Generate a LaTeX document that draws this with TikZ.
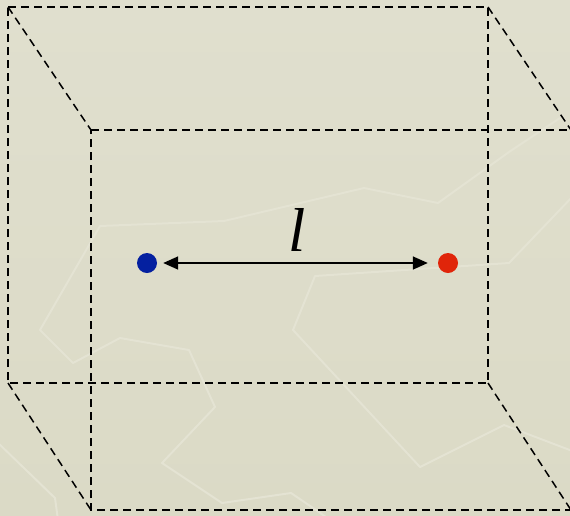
\documentclass[tikz,border=0pt]{standalone}
\usepackage{fontspec}
\setmainfont{Liberation Serif}
\usetikzlibrary{arrows.meta, positioning}

\definecolor{bgtop}{RGB}{224,223,206}
\definecolor{bgbot}{RGB}{219,218,198}
\definecolor{bgline}{RGB}{228,227,211}
\definecolor{blueq}{RGB}{4,32,160}
\definecolor{redq}{RGB}{224,37,10}

\begin{document}
\begin{tikzpicture}[
    x=1pt, y=-1pt,
    edge/.style={black, line width=1.5pt, dash pattern=on 8pt off 5pt},
    trace/.style={bgline, line width=2pt, line join=round},
    dot/.style={circle, inner sep=0pt, minimum size=20pt},
    arrow/.style={{Triangle[length=15pt, width=13pt]}-{Triangle[length=15pt, width=13pt]}, line width=1.6pt},
    label/.style={font=\fontsize{62}{62}\selectfont\itshape, inner sep=0pt},
]

\clip (0,0) rectangle (570,515);
\shade[top color=bgtop, bottom color=bgbot] (0,0) rectangle (570,515);

% faint background traces
\draw[trace] (560,118) -- (509,152) -- (438,203) -- (364,188) -- (224,221) -- (100,226) -- (40,330) -- (73,363) -- (120,338) -- (189,350) -- (215,407) -- (162,463) -- (222,503) -- (291,493) -- (316,510) -- (330,520);
\draw[trace] (575,194) -- (509,263) -- (315,276) -- (293,330) -- (420,467) -- (504,425) -- (575,452);
\draw[trace] (-5,440) -- (55,498) -- (58,520);

% box corners
\coordinate (b1) at (8,7);
\coordinate (b2) at (488,7);
\coordinate (b3) at (488,383);
\coordinate (b4) at (8,383);
\coordinate (f1) at (91,130);
\coordinate (f2) at (571,130);
\coordinate (f3) at (571,510);
\coordinate (f4) at (91,510);

\draw[edge] (b1) -- (b2) -- (b3) -- (b4) -- cycle;
\draw[edge] (f1) -- (f2) -- (f3) -- (f4) -- cycle;
\draw[edge] (b1) -- (f1);
\draw[edge] (b2) -- (f2);
\draw[edge] (b3) -- (f3);
\draw[edge] (b4) -- (f4);

% charges
\node[dot, fill=blueq] (qa) at (147,263) {};
\node[dot, fill=redq] (qb) at (448,263) {};

\draw[arrow, shorten <=6pt, shorten >=10pt] (qa) -- node[label, above=11pt] (len) {l} (qb);

\end{tikzpicture}
\end{document}
